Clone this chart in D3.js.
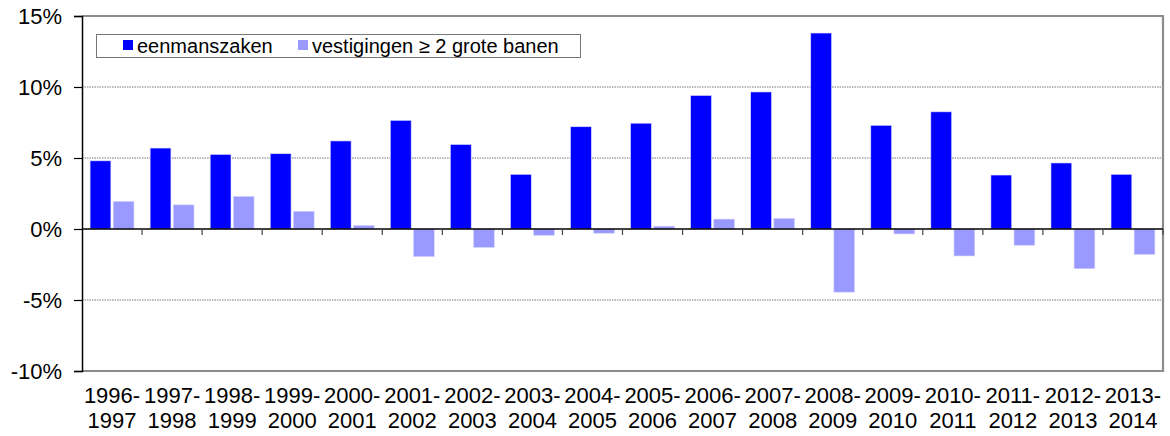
<!DOCTYPE html>
<html><head><meta charset="utf-8">
<script src="https://cdn.jsdelivr.net/npm/d3@7"></script>
<style>body{margin:0;background:#fff}svg{display:block;font-family:"Liberation Sans",Arial,sans-serif}</style>
</head><body>
<svg id="c" width="1170" height="436"></svg>
<script>
const categories = ["1996-1997","1997-1998","1998-1999","1999-2000","2000-2001","2001-2002","2002-2003","2003-2004","2004-2005","2005-2006","2006-2007","2007-2008","2008-2009","2009-2010","2010-2011","2011-2012","2012-2013","2013-2014"];
const eenmanszaken = [4.8,5.7,5.25,5.3,6.2,7.65,5.95,3.85,7.2,7.45,9.4,9.65,13.8,7.3,8.25,3.8,4.65,3.85];
const vestigingen = [1.95,1.7,2.3,1.25,0.25,-1.95,-1.3,-0.45,-0.3,0.2,0.7,0.75,-4.45,-0.35,-1.9,-1.15,-2.8,-1.8];
const seriesNames = ["eenmanszaken","vestigingen \u2265 2 grote banen"];
const seriesColors = ["#0000ff","#9999ff"];
const yTicks = [-10,-5,0,5,10,15];

const svg = d3.select("#c");
const L = 82, R = 1163, T = 16, B = 371;
const x = d3.scaleBand().domain(categories).range([L, R]).paddingInner(0).paddingOuter(0);
const xs = d3.scaleBand().domain([0,1]).range([0, x.bandwidth()]).paddingInner(0.1).paddingOuter(0.35);
const y = d3.scaleLinear().domain([-10,15]).range([B, T]);

// gridlines
svg.append("g").selectAll("line").data(yTicks.filter(v => v !== 0 && v !== 15 && v !== -10)).join("line")
  .attr("x1", L).attr("x2", R).attr("y1", d => y(d)).attr("y2", d => y(d))
  .attr("stroke", "#777").attr("stroke-width", 1).attr("stroke-dasharray", "1.5,1");

// frame (top, right, bottom)
svg.append("path").attr("d", `M${L},${T}H${R}V${B}H${L}`).attr("fill", "none")
  .attr("stroke", "#8c8c8c").attr("stroke-width", 2.2);

// bars
const data = categories.map((c, i) => ({c, vals: [eenmanszaken[i], vestigingen[i]]}));
const g = svg.append("g").selectAll("g").data(data).join("g").attr("transform", d => `translate(${x(d.c)},0)`);
g.selectAll("rect").data(d => d.vals.map((v, k) => ({v, k}))).join("rect")
  .attr("x", d => xs(d.k)).attr("width", xs.bandwidth())
  .attr("y", d => y(Math.max(0, d.v))).attr("height", d => Math.abs(y(d.v) - y(0)))
  .attr("fill", d => seriesColors[d.k]).attr("stroke", "#d8d8ff").attr("stroke-width", 0.6);

// zero line with category ticks
svg.append("line").attr("x1", L).attr("x2", R).attr("y1", y(0)).attr("y2", y(0)).attr("stroke", "#000").attr("stroke-width", 1.5);
svg.append("g").selectAll("line").data(categories).join("line")
  .attr("x1", d => x(d) + x.bandwidth()).attr("x2", d => x(d) + x.bandwidth())
  .attr("y1", y(0)).attr("y2", y(0) + 6).attr("stroke", "#444").attr("stroke-width", 1.2);

// y axis
const yAxis = d3.axisLeft(y).tickValues(yTicks).tickSize(8).tickPadding(12).tickFormat(d => d + "%");
const ya = svg.append("g").attr("transform", `translate(${L},0)`).call(yAxis);
ya.select(".domain").attr("stroke", "#000").attr("stroke-width", 1.5);
ya.selectAll(".tick line").attr("stroke", "#000").attr("stroke-width", 1.2);
ya.selectAll(".tick text").attr("font-size", 22).attr("fill", "#000").attr("font-family", "Liberation Sans, Arial, sans-serif");

// x labels
const xl = svg.append("g").selectAll("text").data(categories).join("text")
  .attr("text-anchor", "middle").attr("font-size", 22).attr("fill", "#000")
  .attr("transform", d => `translate(${x(d) + x.bandwidth()/2},0)`);
xl.append("tspan").attr("x", 0).attr("y", 403).text(d => d.split("-")[0] + "-");
xl.append("tspan").attr("x", 0).attr("y", 428).text(d => d.split("-")[1]);

// legend
const lg = svg.append("g");
lg.append("rect").attr("x", 96.5).attr("y", 34.5).attr("width", 484).attr("height", 23)
  .attr("fill", "#fff").attr("stroke", "#777").attr("stroke-width", 1);
const lx = [123, 298];
seriesNames.forEach((n, i) => {
  lg.append("rect").attr("x", lx[i]).attr("y", 40).attr("width", 10).attr("height", 10).attr("fill", seriesColors[i]);
  lg.append("text").attr("x", lx[i] + 14).attr("y", 52.5).attr("font-size", 20).attr("fill", "#000").text(n);
});
</script>
</body></html>
